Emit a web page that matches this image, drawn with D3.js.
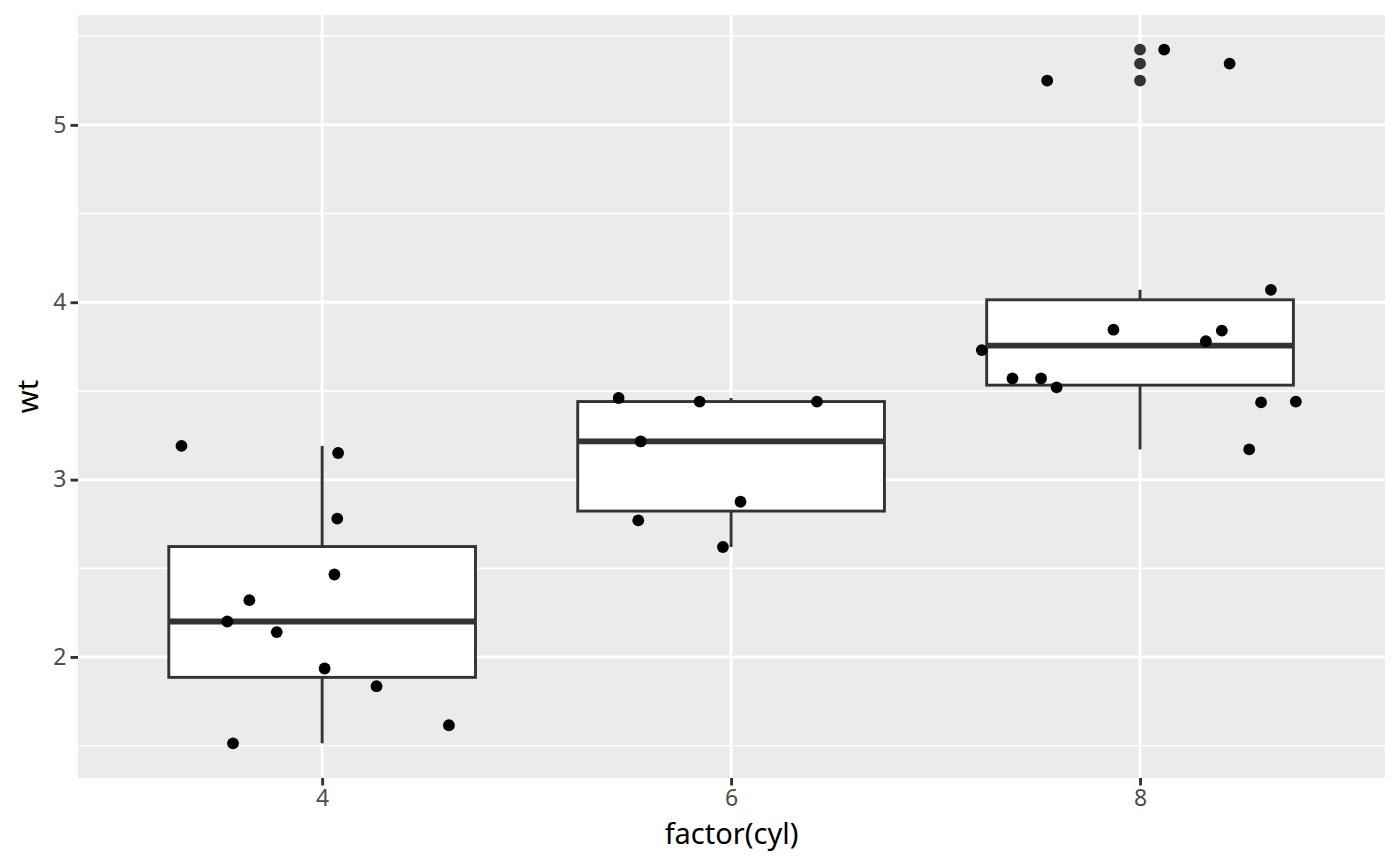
<!DOCTYPE html>
<html>
<head>
<meta charset="utf-8">
<script src="https://cdn.jsdelivr.net/npm/d3@7"></script>
<style>
  body { margin: 0; background: #fff; }
  svg { display: block; font-family: "Noto Sans", "Open Sans", sans-serif; }
</style>
</head>
<body>
<div class="chart"></div>
<script>
// categories on the x axis
var categories = ["4", "6", "8"];

// wt values per cylinder group (mtcars)
var wt4 = [3.19, 3.15, 2.78, 2.465, 2.32, 2.2, 2.14, 1.935, 1.835, 1.615, 1.513];
var wt6 = [3.46, 3.44, 3.44, 3.215, 2.875, 2.77, 2.62];
var wt8 = [5.25, 5.424, 5.345, 4.07, 3.845, 3.84, 3.78, 3.73, 3.57, 3.57, 3.52, 3.435, 3.44, 3.17];

// horizontal jitter of each point, in category units
var jit4 = [-0.344, 0.039, 0.037, 0.030, -0.178, -0.232, -0.111, 0.006, 0.133, 0.310, -0.218];
var jit6 = [-0.275, -0.077, 0.210, -0.221, 0.023, -0.227, -0.020];
var jit8 = [-0.227, 0.059, 0.219, 0.320, -0.065, 0.200, 0.161, -0.387, -0.312, -0.242, -0.204, 0.296, 0.381, 0.267];

var yTicks = [2, 3, 4, 5];
var yMinor = [1.5, 2.5, 3.5, 4.5, 5.5];

var opts = {
  width: 1400,
  height: 866,
  left: 78,
  right: 1385,
  top: 15,
  bottom: 778,
  boxWidth: 0.75
};

var groups = [wt4, wt6, wt8];
var jitters = [jit4, jit6, jit8];

var svg = d3.select('.chart').append('svg')
  .attr('width', opts.width)
  .attr('height', opts.height);

var x = d3.scaleLinear().domain([0.403, 3.599]).range([opts.left, opts.right]);
var y = d3.scaleLinear().domain([1.3175, 5.6195]).range([opts.bottom, opts.top]);

// panel
svg.append('rect')
  .attr('x', opts.left).attr('y', opts.top)
  .attr('width', opts.right - opts.left).attr('height', opts.bottom - opts.top)
  .attr('fill', '#ebebeb');

var grid = svg.append('g');
grid.selectAll('line.minor').data(yMinor).enter().append('line')
  .attr('x1', opts.left).attr('x2', opts.right)
  .attr('y1', function(d) { return y(d); }).attr('y2', function(d) { return y(d); })
  .attr('stroke', '#fff').attr('stroke-width', 1.45);
grid.selectAll('line.majory').data(yTicks).enter().append('line')
  .attr('x1', opts.left).attr('x2', opts.right)
  .attr('y1', function(d) { return y(d); }).attr('y2', function(d) { return y(d); })
  .attr('stroke', '#fff').attr('stroke-width', 2.9);
grid.selectAll('line.majorx').data(categories).enter().append('line')
  .attr('y1', opts.top).attr('y2', opts.bottom)
  .attr('x1', function(d, i) { return x(i + 1); }).attr('x2', function(d, i) { return x(i + 1); })
  .attr('stroke', '#fff').attr('stroke-width', 2.9);

// box stats, same as R's default quantiles
var stats = groups.map(function(vals, i) {
  var s = vals.slice().sort(d3.ascending);
  var q1 = d3.quantile(s, 0.25), med = d3.quantile(s, 0.5), q3 = d3.quantile(s, 0.75);
  var iqr = q3 - q1;
  var inside = s.filter(function(v) { return v >= q1 - 1.5 * iqr && v <= q3 + 1.5 * iqr; });
  return {
    pos: i + 1, q1: q1, med: med, q3: q3,
    lo: d3.min(inside), hi: d3.max(inside),
    out: s.filter(function(v) { return v < q1 - 1.5 * iqr || v > q3 + 1.5 * iqr; })
  };
});

var boxes = svg.append('g').selectAll('g').data(stats).enter().append('g');
var bcol = '#333333';
boxes.append('line')
  .attr('x1', function(d) { return x(d.pos); }).attr('x2', function(d) { return x(d.pos); })
  .attr('y1', function(d) { return y(d.q3); }).attr('y2', function(d) { return y(d.hi); })
  .attr('stroke', bcol).attr('stroke-width', 2.9);
boxes.append('line')
  .attr('x1', function(d) { return x(d.pos); }).attr('x2', function(d) { return x(d.pos); })
  .attr('y1', function(d) { return y(d.q1); }).attr('y2', function(d) { return y(d.lo); })
  .attr('stroke', bcol).attr('stroke-width', 2.9);
boxes.append('rect')
  .attr('x', function(d) { return x(d.pos - opts.boxWidth / 2); })
  .attr('width', function(d) { return x(d.pos + opts.boxWidth / 2) - x(d.pos - opts.boxWidth / 2); })
  .attr('y', function(d) { return y(d.q3); })
  .attr('height', function(d) { return y(d.q1) - y(d.q3); })
  .attr('fill', '#fff').attr('stroke', bcol).attr('stroke-width', 2.9);
boxes.append('line')
  .attr('x1', function(d) { return x(d.pos - opts.boxWidth / 2); })
  .attr('x2', function(d) { return x(d.pos + opts.boxWidth / 2); })
  .attr('y1', function(d) { return y(d.med); }).attr('y2', function(d) { return y(d.med); })
  .attr('stroke', bcol).attr('stroke-width', 5.8);
boxes.selectAll('circle').data(function(d) {
    return d.out.map(function(v) { return { pos: d.pos, v: v }; });
  }).enter().append('circle')
  .attr('cx', function(d) { return x(d.pos); })
  .attr('cy', function(d) { return y(d.v); })
  .attr('r', 5.9).attr('fill', bcol);

// jittered points
var pts = [];
groups.forEach(function(vals, i) {
  vals.forEach(function(v, j) { pts.push({ x: i + 1 + jitters[i][j], y: v }); });
});
svg.append('g').selectAll('circle').data(pts).enter().append('circle')
  .attr('cx', function(d) { return x(d.x); })
  .attr('cy', function(d) { return y(d.y); })
  .attr('r', 5.9).attr('fill', '#000');

// axes
var xAxis = svg.append('g')
  .attr('transform', 'translate(0,' + opts.bottom + ')')
  .call(d3.axisBottom(x).tickValues([1, 2, 3])
    .tickFormat(function(d) { return categories[d - 1]; })
    .tickSize(7.5).tickPadding(4));
var yAxis = svg.append('g')
  .attr('transform', 'translate(' + opts.left + ',0)')
  .call(d3.axisLeft(y).tickValues(yTicks).tickFormat(d3.format('d'))
    .tickSize(7.5).tickPadding(4));

[xAxis, yAxis].forEach(function(a) {
  a.select('.domain').remove();
  a.selectAll('.tick line').attr('stroke', '#333333').attr('stroke-width', 2.9);
  a.selectAll('.tick text').attr('fill', '#4d4d4d')
    .style('font-size', '23px').style('font-family', '"Noto Sans", "Open Sans", sans-serif');
});

svg.append('text')
  .attr('x', (opts.left + opts.right) / 2).attr('y', 844)
  .attr('text-anchor', 'middle')
  .style('font-size', '29px').attr('fill', '#000')
  .text('factor(cyl)');

svg.append('text')
  .attr('transform', 'translate(38,' + ((opts.top + opts.bottom) / 2) + ') rotate(-90)')
  .attr('text-anchor', 'middle')
  .style('font-size', '29px').attr('fill', '#000')
  .text('wt');
</script>
</body>
</html>
